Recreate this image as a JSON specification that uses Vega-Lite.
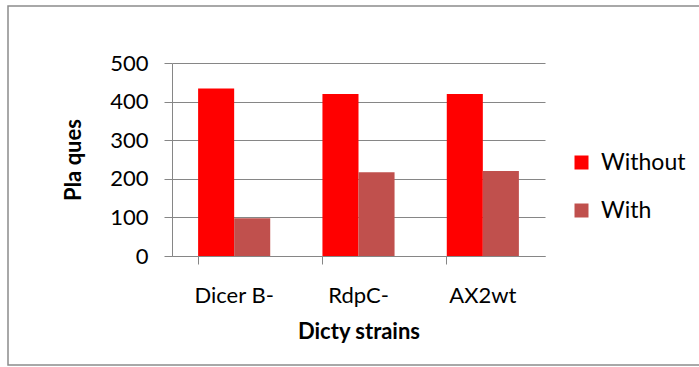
{
  "$schema": "https://vega.github.io/schema/vega-lite/v6.json",
  "autosize": {"type": "none"},
  "padding": {"left": 8, "top": 6, "right": 0, "bottom": 2},
  "width": 692,
  "height": 359,
  "background": "white",
  "config": {
    "font": "Lato",
    "view": {"stroke": "#8c8c8c", "strokeWidth": 1.5},
    "axis": {
      "labelFont": "Lato",
      "titleFont": "Lato",
      "labelColor": "#000000",
      "titleColor": "#000000",
      "domainColor": "#868686",
      "tickColor": "#868686",
      "gridColor": "#868686",
      "domainWidth": 1,
      "tickWidth": 1,
      "gridWidth": 1
    },
    "legend": {"labelFont": "Lato"}
  },
  "data": {
    "values": [
      {"strain": "Dicer B-", "condition": "Without", "plaques": 434},
      {"strain": "Dicer B-", "condition": "With", "plaques": 98},
      {"strain": "RdpC-", "condition": "Without", "plaques": 420},
      {"strain": "RdpC-", "condition": "With", "plaques": 217},
      {"strain": "AX2wt", "condition": "Without", "plaques": 420},
      {"strain": "AX2wt", "condition": "With", "plaques": 220}
    ]
  },
  "mark": {"type": "bar"},
  "encoding": {
    "x": {
      "field": "strain",
      "type": "nominal",
      "sort": ["Dicer B-", "RdpC-", "AX2wt"],
      "scale": {"range": [164, 537], "paddingInner": 0.42, "paddingOuter": 0.21},
      "axis": {
        "title": "Dicty strains",
        "offset": -109,
        "titleFontSize": 22,
        "titleFontWeight": "bold",
        "titlePadding": 15,
        "labelFontSize": 22,
        "labelAngle": 0,
        "labelPadding": 21,
        "tickSize": 8,
        "bandPosition": 0,
        "grid": false
      }
    },
    "xOffset": {
      "field": "condition",
      "type": "nominal",
      "sort": ["Without", "With"],
      "scale": {"paddingInner": 0, "paddingOuter": 0}
    },
    "y": {
      "field": "plaques",
      "type": "quantitative",
      "scale": {"domain": [0, 500], "range": [250, 57]},
      "axis": {
        "title": "Pla ques",
        "offset": -164,
        "titleFontSize": 22,
        "titleFontWeight": "bold",
        "titlePadding": 24,
        "labelFontSize": 22,
        "labelPadding": 16,
        "tickSize": 8,
        "values": [0, 100, 200, 300, 400, 500],
        "grid": true
      }
    },
    "color": {
      "field": "condition",
      "type": "nominal",
      "sort": ["Without", "With"],
      "scale": {"domain": ["Without", "With"], "range": ["#FF0000", "#C0504D"]},
      "legend": {
        "title": null,
        "orient": "none",
        "legendX": 562,
        "legendY": 145,
        "symbolType": "square",
        "symbolSize": 196,
        "symbolStrokeWidth": 0,
        "labelFontSize": 23,
        "labelColor": "#000000",
        "rowPadding": 24,
        "labelOffset": 8
      }
    }
  }
}
